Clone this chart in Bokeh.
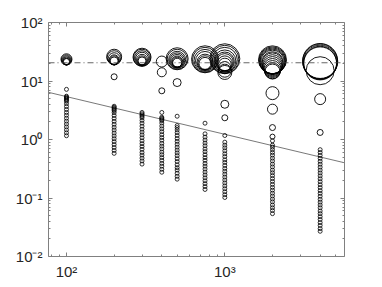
from bokeh.plotting import figure
from bokeh.models import (Range1d, LogAxis, Span, CustomJSTickFormatter, ColumnDataSource,
                          FixedTicker, CustomLabelingPolicy)
from bokeh.embed import file_html
from bokeh.resources import INLINE

# ---- data ----
x_levels = [100, 200, 300, 400, 500, 750, 1000, 2000, 4000]

# small circles forming the vertical chains, per x level
chain_100 = [1.16, 1.3, 1.46, 1.64, 1.84, 2.06, 2.31, 2.6, 2.9, 3.26, 3.66, 4.1, 4.5, 4.7, 4.9, 5.1, 5.3, 5.5, 7.2]
chain_200 = [0.58, 0.65, 0.73, 0.82, 0.92, 1.03, 1.15, 1.29, 1.45, 1.62, 1.82, 2.04, 2.29, 2.57, 2.88, 3.1, 3.25, 3.4, 3.55, 3.7]
chain_300 = [0.38, 0.43, 0.48, 0.54, 0.6, 0.68, 0.76, 0.85, 0.95, 1.07, 1.2, 1.34, 1.5, 1.69, 1.9, 2.12, 2.35, 2.5, 2.62, 2.75, 2.9]
chain_400 = [0.276, 0.31, 0.35, 0.39, 0.44, 0.49, 0.55, 0.61, 0.69, 0.77, 0.86, 0.97, 1.08, 1.21, 1.36, 1.52, 1.7, 1.91, 2.1, 2.2, 2.3, 2.4, 2.9]
chain_500 = [0.21, 0.235, 0.265, 0.3, 0.33, 0.37, 0.42, 0.47, 0.53, 0.59, 0.66, 0.74, 0.83, 0.93, 1.04, 1.17, 1.31, 1.46, 1.6, 1.73, 2.5]
chain_750 = [0.14, 0.157, 0.176, 0.197, 0.221, 0.248, 0.278, 0.312, 0.35, 0.39, 0.44, 0.49, 0.55, 0.62, 0.69, 0.78, 0.87, 0.98, 1.1, 1.25, 1.9]
chain_1000 = [0.102, 0.114, 0.128, 0.144, 0.161, 0.181, 0.203, 0.228, 0.256, 0.287, 0.32, 0.36, 0.405, 0.45, 0.51, 0.57, 0.64, 0.72, 0.8, 0.9, 1.17]
chain_2000 = [0.054, 0.061, 0.068, 0.076, 0.086, 0.096, 0.108, 0.121, 0.136, 0.152, 0.171, 0.192, 0.215, 0.241, 0.27, 0.3, 0.34, 0.38, 0.43, 0.48, 0.54, 0.6, 0.67, 0.74, 0.8, 0.95]
chain_4000 = [0.027, 0.030, 0.034, 0.038, 0.043, 0.048, 0.054, 0.060, 0.068, 0.076, 0.085, 0.095, 0.107, 0.120, 0.134, 0.151, 0.169, 0.19, 0.213, 0.239, 0.268, 0.3, 0.337, 0.378, 0.424, 0.476, 0.534, 0.6, 0.67]
chains = [chain_100, chain_200, chain_300, chain_400, chain_500, chain_750, chain_1000, chain_2000, chain_4000]

# larger circles: value and marker diameter (px), per x level
bub_100_y = [23.5, 23, 22.5, 22, 21.5, 21.5]
bub_100_d = [11, 10, 9, 8, 7, 6]
bub_200_y = [26, 25, 24, 23, 22.5, 22, 11.8]
bub_200_d = [15, 14, 12, 10, 9, 8, 6]
bub_300_y = [25.5, 25, 24.5, 24, 23, 22.5, 22]
bub_300_d = [18, 17, 15, 13, 11, 9, 8]
bub_400_y = [21.5, 14.1, 6.8]
bub_400_d = [11, 9, 6]
bub_500_y = [24, 23.5, 23, 22.5, 22, 21.5, 21, 20.5, 9.4]
bub_500_d = [22, 20, 17, 15, 13, 11, 10, 9, 8]
bub_750_y = [23.5, 23, 22.5, 22, 21, 20.5, 20]
bub_750_d = [27, 25, 22, 19, 16, 14, 12]
bub_1000_y = [24, 23.5, 23, 22, 21.5, 21, 20, 19, 17, 15, 14, 4.0, 2.35]
bub_1000_d = [30, 28, 25, 22, 19, 17, 15, 13, 12, 13, 14, 8, 6]
bub_2000_y = [23, 22.5, 22, 21.5, 21, 20.5, 20, 19, 18, 17, 16, 15, 14.5, 6.2, 3.3, 1.6, 1.12]
bub_2000_d = [28, 27, 26, 25, 24, 22, 21, 20, 19, 18, 17, 16, 15, 13, 10, 6, 5]
bub_4000_y = [22, 21.5, 21, 20.5, 20, 15, 4.9, 1.32]
bub_4000_d = [35, 35, 34, 33, 33, 28, 11, 6]
bub_y = [bub_100_y, bub_200_y, bub_300_y, bub_400_y, bub_500_y, bub_750_y, bub_1000_y, bub_2000_y, bub_4000_y]
bub_d = [bub_100_d, bub_200_d, bub_300_d, bub_400_d, bub_500_d, bub_750_d, bub_1000_d, bub_2000_d, bub_4000_d]

# reference lines
fit_x = [77, 5700]
fit_y = [6.4, 0.40]
level_y = 20.5

x_lim = (77, 5700)
y_lim = (0.01, 100)

# ticks
x_major = [100, 1000]
x_minor = [80, 90, 200, 300, 400, 500, 600, 700, 800, 900, 2000, 3000, 4000, 5000]
y_major = [0.01, 0.1, 1, 10, 100]
y_minor = [0.02, 0.03, 0.04, 0.05, 0.06, 0.07, 0.08, 0.09,
           0.2, 0.3, 0.4, 0.5, 0.6, 0.7, 0.8, 0.9,
           2, 3, 4, 5, 6, 7, 8, 9,
           20, 30, 40, 50, 60, 70, 80, 90]

# ---- build ----
cx, cy = [], []
for xv, ys in zip(x_levels, chains):
    cx += [xv] * len(ys)
    cy += ys
bx, by, bd = [], [], []
for xv, ys, ds in zip(x_levels, bub_y, bub_d):
    bx += [xv] * len(ys)
    by += ys
    bd += ds

p = figure(width=372, height=283, x_axis_type="log", y_axis_type="log",
           x_range=Range1d(*x_lim), y_range=Range1d(*y_lim),
           output_backend="svg", toolbar_location=None,
           min_border_left=48, min_border_right=28, min_border_top=22, min_border_bottom=27)
p.outline_line_color = None
p.xgrid.visible = False
p.ygrid.visible = False
p.background_fill_color = "white"

fmt_code = """
const e = Math.round(Math.log10(tick));
const sup = {'-':'\u207b','0':'\u2070','1':'\u00b9','2':'\u00b2','3':'\u00b3','4':'\u2074','5':'\u2075','6':'\u2076','7':'\u2077','8':'\u2078','9':'\u2079'};
return '10' + String(e).split('').map(c => sup[c]).join('');
"""

def style(ax, ticker, labels=True):
    ax.ticker = ticker
    ax.axis_line_color = "#808080"
    ax.axis_line_width = 1
    ax.major_tick_line_color = "#808080"
    ax.minor_tick_line_color = "#808080"
    ax.major_tick_in = 4
    ax.major_tick_out = 0
    ax.minor_tick_in = 2
    ax.minor_tick_out = 0
    ax.formatter = CustomJSTickFormatter(code=fmt_code)
    if labels:
        ax.major_label_text_font = "Liberation Sans"
        ax.major_label_text_font_size = "15px"
        ax.major_label_text_color = "#262626"
        ax.major_label_standoff = 6
    else:
        ax.major_label_text_font_size = "5px"
        ax.major_label_standoff = 0
        ax.major_label_policy = CustomLabelingPolicy(
            code="for (const i of [...indices]) indices.unset(i); return indices")

xt = FixedTicker(ticks=x_major, minor_ticks=x_minor)
yt = FixedTicker(ticks=y_major, minor_ticks=y_minor)
style(p.xaxis[0], xt)
style(p.yaxis[0], yt)
top = LogAxis()
right = LogAxis()
style(top, FixedTicker(ticks=x_major, minor_ticks=x_minor), False)
style(right, FixedTicker(ticks=y_major, minor_ticks=y_minor), False)
p.add_layout(top, "above")
p.add_layout(right, "right")

p.add_layout(Span(location=level_y, dimension="width", line_color="#404040",
                  line_width=0.8, line_dash="6 3 1 3"))
p.line(fit_x, fit_y, line_color="#555555", line_width=0.8)

p.scatter(cx, cy, marker="circle", size=4, fill_color=None, line_color="black", line_width=0.8)
src = ColumnDataSource(dict(x=bx, y=by, d=bd))
p.scatter("x", "y", size="d", source=src, marker="circle", fill_color=None,
          line_color="black", line_width=0.9)

open("out.html", "w").write(file_html(p, INLINE))
